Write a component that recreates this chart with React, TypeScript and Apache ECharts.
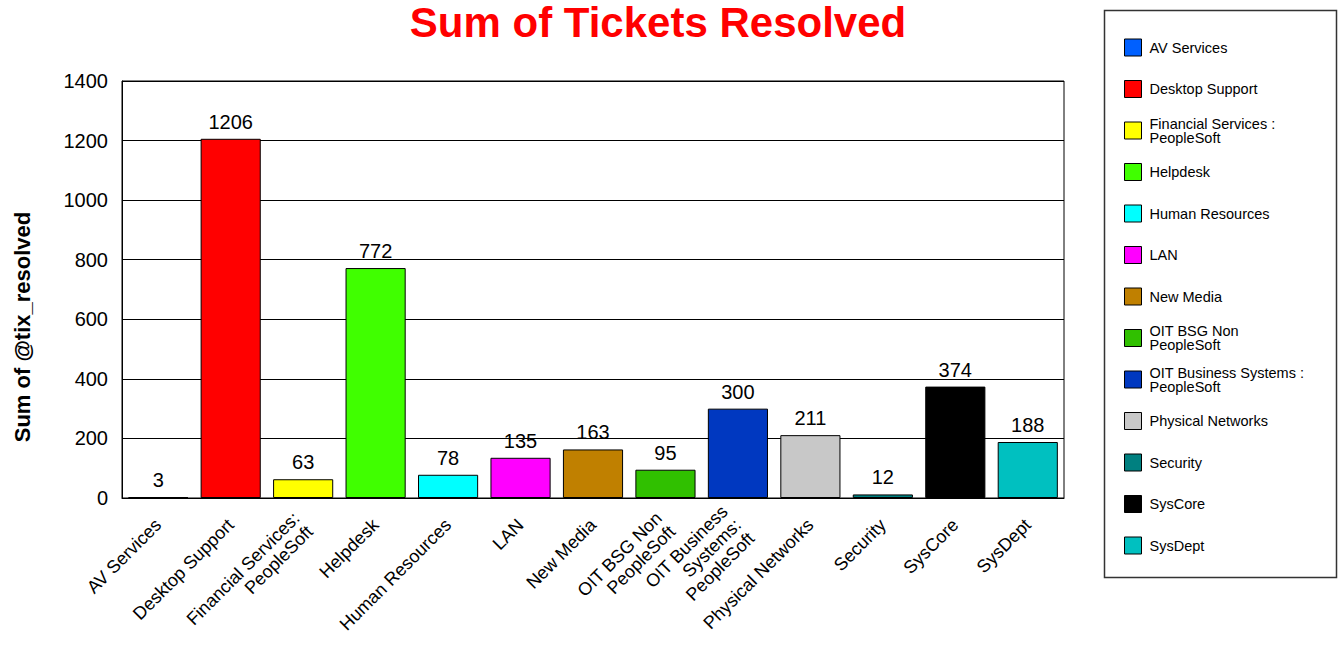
import React, { useEffect, useRef } from "react";
import * as echarts from "echarts";

const categories = [
  "AV Services",
  "Desktop Support",
  "Financial Services: PeopleSoft",
  "Helpdesk",
  "Human Resources",
  "LAN",
  "New Media",
  "OIT BSG Non PeopleSoft",
  "OIT Business Systems: PeopleSoft",
  "Physical Networks",
  "Security",
  "SysCore",
  "SysDept",
];

const axisLabelText = [
  "AV Services",
  "Desktop Support",
  "Financial Services:\nPeopleSoft",
  "Helpdesk",
  "Human Resources",
  "LAN",
  "New Media",
  "OIT BSG Non\nPeopleSoft",
  "OIT Business\nSystems:\nPeopleSoft",
  "Physical Networks",
  "Security",
  "SysCore",
  "SysDept",
];

const legendLabelText = [
  "AV Services",
  "Desktop Support",
  "Financial Services :\nPeopleSoft",
  "Helpdesk",
  "Human Resources",
  "LAN",
  "New Media",
  "OIT BSG Non\nPeopleSoft",
  "OIT Business Systems :\nPeopleSoft",
  "Physical Networks",
  "Security",
  "SysCore",
  "SysDept",
];

const ticketsResolved = [3, 1206, 63, 772, 78, 135, 163, 95, 300, 211, 12, 374, 188];

const barColors = [
  "#0060ff",
  "#ff0000",
  "#ffff00",
  "#40ff00",
  "#00ffff",
  "#ff00ff",
  "#c08000",
  "#30c000",
  "#0038c0",
  "#c8c8c8",
  "#008080",
  "#000000",
  "#00c0c0",
];

const yTicks = { min: 0, max: 1400, interval: 200 };

const FONT = "Arial, 'Liberation Sans', sans-serif";

export default function App() {
  const ref = useRef<HTMLDivElement>(null);

  useEffect(() => {
    document.body.style.margin = "0";
    if (!ref.current) return;
    const chart = echarts.init(ref.current, null, { renderer: "svg" });

    const series = categories.map((name, i) => ({
      name,
      type: "bar",
      stack: "total",
      barCategoryGap: "17%",
      data: categories.map((_, j) => (j === i ? ticketsResolved[i] : "-")),
      itemStyle: { color: barColors[i], borderColor: "#000", borderWidth: 1 },
      label: {
        show: true,
        position: "top",
        distance: 7,
        color: "#000",
        fontSize: 20,
        fontFamily: FONT,
      },
    }));

    const legendCenter0 = 47;
    const legendStep = 41.5;
    const legends = categories.map((name, i) => {
      const lines = legendLabelText[i].split("\n").length;
      const half = lines > 1 ? 14 : 8.5;
      return {
        show: true,
        orient: "vertical",
        left: 1124,
        top: legendCenter0 + legendStep * i - half,
        data: [name],
        itemWidth: 17,
        itemHeight: 17,
        icon: "rect",
        selectedMode: false,
        padding: 0,
        itemStyle: { borderColor: "#000", borderWidth: 1 },
        formatter: (n: string) => legendLabelText[categories.indexOf(n)],
        textStyle: {
          fontSize: 14.5,
          lineHeight: 14,
          color: "#000",
          fontFamily: FONT,
          padding: [0, 0, 0, 3],
        },
      };
    });

    chart.setOption({
      animation: false,
      backgroundColor: "#fff",
      title: {
        text: "Sum of Tickets Resolved",
        left: 653,
        textAlign: "center",
        top: -4,
        textStyle: {
          color: "#ff0000",
          fontSize: 42,
          fontWeight: "bold",
          fontFamily: FONT,
        },
      },
      legend: legends,
      grid: {
        left: 122,
        right: 276,
        top: 81,
        bottom: 148,
        show: true,
        borderColor: "#000",
        borderWidth: 1,
        containLabel: false,
      },
      xAxis: {
        type: "category",
        data: categories,
        axisTick: { show: false },
        axisLine: { lineStyle: { color: "#000", width: 1 } },
        axisLabel: {
          interval: 0,
          rotate: 45,
          margin: 24,
          color: "#000",
          fontSize: 18,
          fontFamily: FONT,
          lineHeight: 19,
          formatter: (v: string) => axisLabelText[categories.indexOf(v)],
        },
      },
      yAxis: {
        type: "value",
        min: yTicks.min,
        max: yTicks.max,
        interval: yTicks.interval,
        axisTick: { show: false },
        axisLine: { show: true, lineStyle: { color: "#000" } },
        splitLine: { lineStyle: { color: "#000", width: 1 } },
        axisLabel: {
          margin: 14,
          color: "#000",
          fontSize: 20,
          fontFamily: FONT,
          formatter: (v: number) => String(v),
        },
      },
      graphic: [
        {
          type: "rect",
          shape: { x: 1104.5, y: 10.5, width: 232, height: 567 },
          style: { fill: "none", stroke: "#333", lineWidth: 1.5 },
          silent: true,
          z: 0,
        },
        {
          type: "text",
          x: 22,
          y: 327,
          rotation: Math.PI / 2,
          style: {
            text: "Sum of @tix_resolved",
            fontSize: 22,
            fontWeight: "bold",
            fontFamily: FONT,
            fill: "#000",
            align: "center",
            verticalAlign: "middle",
          },
        },
      ],
      series,
    });

    return () => chart.dispose();
  }, []);

  return <div ref={ref} style={{ width: 1340, height: 646 }} />;
}
